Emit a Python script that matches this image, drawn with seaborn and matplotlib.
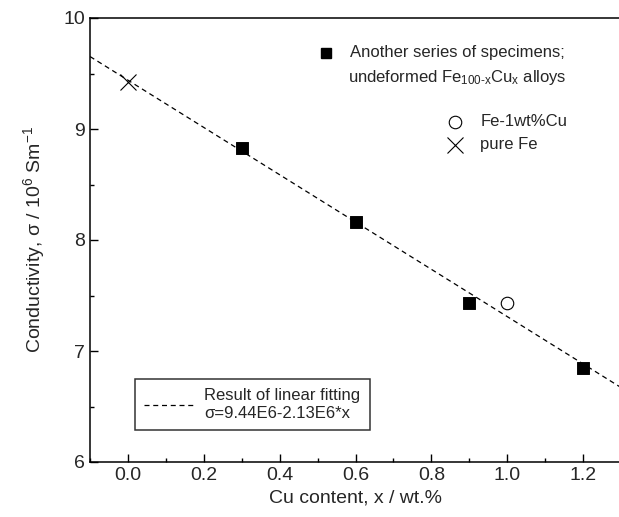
import seaborn as sns
import matplotlib.pyplot as plt
import numpy as np
from matplotlib.ticker import MultipleLocator
from matplotlib.lines import Line2D

# dados
serie_x = [0.3, 0.6, 0.9, 1.2]
serie_sigma = [8.83, 8.16, 7.43, 6.85]
fe1cu_x = [1.0]
fe1cu_sigma = [7.43]
fe_puro_x = [0.0]
fe_puro_sigma = [9.42]
ajuste_a = 9.44
ajuste_b = -2.13

sns.set_style('ticks')
plt.rcParams['font.family'] = ['Liberation Sans', 'DejaVu Sans']
plt.rcParams['mathtext.fontset'] = 'custom'
plt.rcParams['mathtext.rm'] = 'Liberation Sans'
plt.rcParams['mathtext.it'] = 'Liberation Sans'

fig = plt.figure(figsize=(6.19, 5.17), dpi=100)
ax = fig.add_axes([90 / 619, 55 / 517, 531 / 619, 444 / 517])

# reta de ajuste
xs = np.array([-0.1, 1.3])
sns.lineplot(x=xs, y=ajuste_a + ajuste_b * xs, ax=ax, color='black',
             linestyle=(0, (4, 3)), linewidth=0.9)

sns.scatterplot(x=serie_x, y=serie_sigma, ax=ax, marker='s', s=68,
                color='black', edgecolor='black', zorder=3)
ax.plot(fe1cu_x, fe1cu_sigma, 'o', ms=9, mfc='white', mec='black', mew=0.8, zorder=3)
ax.plot(fe_puro_x, fe_puro_sigma, 'x', ms=11, color='black', mew=0.8, zorder=3)

ax.set_xlim(-0.1, 1.3)
ax.set_ylim(6, 10)
ax.xaxis.set_major_locator(MultipleLocator(0.2))
ax.xaxis.set_minor_locator(MultipleLocator(0.1))
ax.yaxis.set_major_locator(MultipleLocator(1))
ax.yaxis.set_minor_locator(MultipleLocator(0.5))
ax.set_xticks(np.arange(0, 1.21, 0.2))
ax.set_xticklabels(['0.0', '0.2', '0.4', '0.6', '0.8', '1.0', '1.2'])
ax.tick_params(which='both', direction='in', labelsize=14, width=1, color='black')
ax.tick_params(which='major', length=6)
ax.tick_params(which='minor', length=3)
for s in ax.spines.values():
    s.set_linewidth(1.1)
    s.set_color('black')

ax.set_xlabel('Cu content, x / wt.%', fontsize=14, labelpad=4)
ax.set_ylabel('Conductivity, σ / 10$^6$ Sm$^{-1}$', fontsize=14, labelpad=12)

# legendas
ax.plot([0.444], [0.922], 's', ms=7, color='black', transform=ax.transAxes)
ax.text(0.49, 0.922, 'Another series of specimens;', transform=ax.transAxes,
        fontsize=12, va='center')
ax.text(0.485, 0.865, 'undeformed Fe$_{\\mathrm{100\\text{-}x}}$Cu$_{\\mathrm{x}}$ alloys',
        transform=ax.transAxes, fontsize=12, va='center')
ax.plot([0.688], [0.766], 'o', ms=9, mfc='white', mec='black', mew=0.8, transform=ax.transAxes)
ax.text(0.735, 0.766, 'Fe-1wt%Cu', transform=ax.transAxes, fontsize=12, va='center')
ax.plot([0.688], [0.714], 'x', ms=11, color='black', mew=0.8, transform=ax.transAxes)
ax.text(0.735, 0.714, 'pure Fe', transform=ax.transAxes, fontsize=12, va='center')

h = Line2D([], [], color='black', linestyle=(0, (4, 3)), linewidth=0.9)
leg = ax.legend([h], ['Result of linear fitting\nσ=9.44E6-2.13E6*x'],
                loc='lower left', bbox_to_anchor=(0.085, 0.072), fontsize=12,
                frameon=True, fancybox=False, edgecolor='black', handlelength=3.0,
                borderpad=0.55, handletextpad=0.6, borderaxespad=0)
leg.get_frame().set_linewidth(1.1)

fig.savefig('out.png', dpi=100)
